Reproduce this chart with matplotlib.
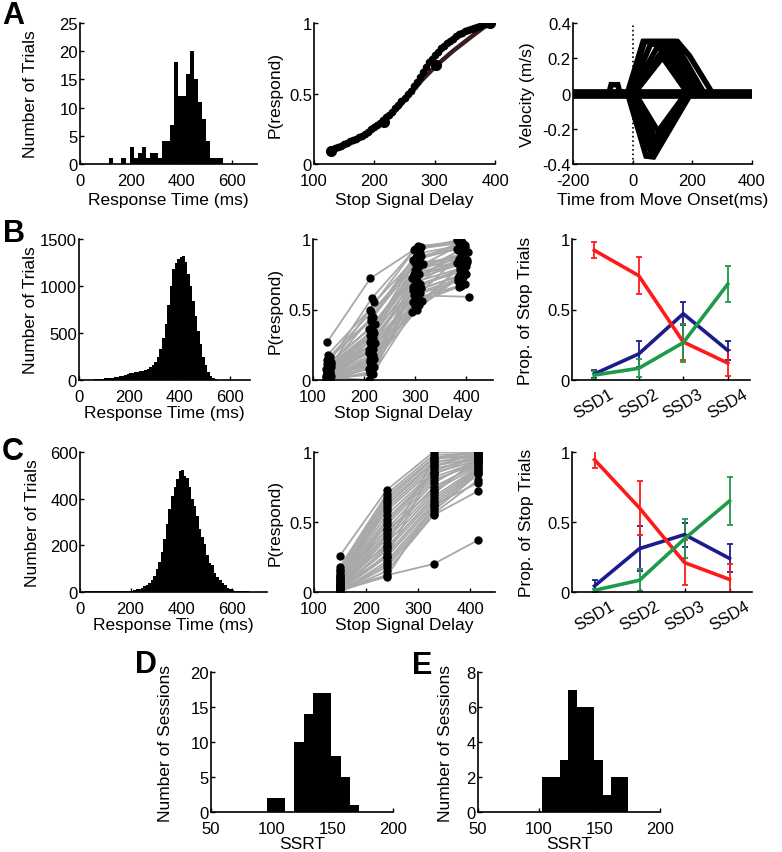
import numpy as np
import matplotlib.pyplot as plt

plt.rcParams['font.family'] = ['Liberation Sans', 'DejaVu Sans']
plt.rcParams['font.size'] = 12
plt.rcParams['axes.linewidth'] = 1.2

W, H = 782, 853

# ---------------- data ----------------
# A: single session
a_rt_left = np.arange(116, 564, 16)
a_rt_counts = [1, 0, 0, 1, 0, 3, 1, 2, 3, 1, 2, 2, 1, 4, 4, 7, 18, 12, 12, 16,
               20, 15, 11, 8, 4, 1, 1, 1]

a_obs_ssd = [128, 216, 303, 391]
a_obs_p = [0.095, 0.30, 0.70, 1.0]
a_fit_ssd = [128, 150, 175, 200, 216, 240, 260, 280, 303, 330, 360, 391]
a_fit_p = [0.10, 0.14, 0.19, 0.25, 0.30, 0.40, 0.50, 0.60, 0.70, 0.80, 0.90, 1.00]
a_dot_ssd = list(range(130, 391, 5))
a_dot_p = [0.10, 0.11, 0.12, 0.13, 0.14, 0.15, 0.16, 0.17, 0.18, 0.19,
           0.20, 0.215, 0.23, 0.245, 0.26, 0.275, 0.29, 0.31, 0.33, 0.35,
           0.37, 0.395, 0.42, 0.445, 0.47, 0.495, 0.52, 0.55, 0.58, 0.615,
           0.65, 0.685, 0.72, 0.745, 0.77, 0.795, 0.82, 0.84, 0.86, 0.875,
           0.89, 0.905, 0.92, 0.93, 0.94, 0.95, 0.96, 0.965, 0.97, 0.98,
           0.99, 0.995, 1.0]

# velocity traces (vertices of time, velocity)
vel_t = [
    [5, 100, 185],
    [0, 95, 110, 195],
    [-5, 80, 120, 205],
    [-10, 60, 130, 220],
    [-15, 40, 140, 240],
    [-18, 35, 150, 190, 268],
    [-80, -72, -50, -42],
    [8, 85, 178],
    [3, 77, 184],
    [-3, 70, 188],
    [-10, 60, 192],
    [-17, 45, 70, 195],
]
vel_v = [
    [0, 0.205, 0],
    [0, 0.23, 0.23, 0],
    [0, 0.255, 0.255, 0],
    [0, 0.28, 0.28, 0],
    [0, 0.295, 0.295, 0],
    [0, 0.295, 0.295, 0.215, 0],
    [0, 0.05, 0.05, 0],
    [0, -0.215, 0],
    [0, -0.26, 0],
    [0, -0.30, 0],
    [0, -0.33, 0],
    [0, -0.355, -0.36, 0],
]
vel_base_t = [-200, 400]
vel_base_v = [0, 0]

# B: monkey 1, all sessions
b_rt_left = np.arange(0, 700, 10)
b_rt_counts = [0, 0, 0, 1, 2, 5, 8, 10, 12, 15, 18, 20, 22, 25, 28,
               35, 40, 45, 55, 62, 70, 75, 80, 85, 92, 100, 108, 120, 135, 160,
               190, 240, 330, 450, 600, 800, 1000, 1180, 1250, 1290,
               1310, 1320, 1260, 1130, 1000, 840, 680, 520, 380, 250,
               160, 90, 45, 20, 10, 5, 3, 2, 1, 1, 1, 0, 0, 0, 0, 0, 0, 0, 0, 0]

b_ssd = [
    (128, 212, 300, 388), (131, 215, 305, 392), (134, 220, 310, 398), (126, 209, 294, 384),
    (130, 214, 302, 406), (129, 211, 298, 386), (133, 218, 312, 395), (127, 213, 296, 382),
    (135, 222, 315, 400), (132, 216, 306, 390), (128, 210, 299, 385), (130, 217, 303, 393),
    (136, 219, 308, 402), (125, 212, 297, 381), (131, 214, 301, 389), (129, 215, 304, 396),
    (134, 211, 309, 387), (127, 216, 295, 391), (133, 213, 311, 399), (130, 218, 300, 385),
    (128, 212, 306, 394), (132, 209, 298, 383), (126, 217, 303, 397), (135, 214, 313, 390),
    (129, 220, 296, 386), (131, 211, 307, 401), (127, 215, 299, 388), (134, 213, 304, 395),
    (130, 219, 310, 392), (128, 210, 302, 384), (133, 216, 297, 398), (126, 212, 305, 389),
    (132, 218, 300, 393), (129, 214, 308, 386), (131, 221, 294, 404), (127, 213, 311, 382),
    (135, 217, 299, 396), (130, 210, 305, 390), (128, 216, 302, 387), (133, 212, 296, 400),
]
b_p = [
    (0.27, 0.72, 0.93, 0.97), (0.12, 0.58, 0.95, 0.98), (0.10, 0.55, 0.90, 0.96), (0.02, 0.00, 0.48, 0.72),
    (0.05, 0.10, 0.60, 0.59), (0.18, 0.50, 0.92, 0.99), (0.16, 0.45, 0.88, 0.95), (0.14, 0.42, 0.85, 0.93),
    (0.13, 0.40, 0.82, 0.90), (0.12, 0.38, 0.80, 0.88), (0.11, 0.36, 0.78, 0.86), (0.10, 0.35, 0.76, 0.85),
    (0.09, 0.33, 0.75, 0.84), (0.08, 0.32, 0.73, 0.83), (0.08, 0.30, 0.72, 0.82), (0.07, 0.28, 0.70, 0.80),
    (0.06, 0.27, 0.68, 0.78), (0.06, 0.25, 0.66, 0.77), (0.05, 0.24, 0.65, 0.75), (0.05, 0.22, 0.63, 0.74),
    (0.04, 0.20, 0.62, 0.73), (0.04, 0.19, 0.60, 0.70), (0.03, 0.18, 0.58, 0.68), (0.03, 0.16, 0.56, 0.67),
    (0.02, 0.15, 0.55, 0.66), (0.02, 0.13, 0.53, 0.85), (0.01, 0.12, 0.52, 0.80), (0.01, 0.10, 0.50, 0.78),
    (0.00, 0.09, 0.62, 0.90), (0.00, 0.08, 0.70, 0.92), (0.00, 0.06, 0.75, 0.94), (0.00, 0.05, 0.80, 0.96),
    (0.01, 0.04, 0.68, 0.88), (0.15, 0.48, 0.86, 0.97), (0.09, 0.26, 0.72, 0.91), (0.07, 0.44, 0.94, 0.99),
    (0.11, 0.30, 0.83, 0.87), (0.06, 0.21, 0.57, 0.72), (0.03, 0.34, 0.87, 0.93), (0.04, 0.14, 0.64, 0.81),
]

ssd_names = ['SSD1', 'SSD2', 'SSD3', 'SSD4']
b_red = [0.92, 0.74, 0.27, 0.12]
b_red_err = [0.057, 0.13, 0.13, 0.09]
b_blue = [0.043, 0.185, 0.47, 0.21]
b_blue_err = [0.03, 0.095, 0.08, 0.07]
b_green = [0.035, 0.083, 0.265, 0.68]
b_green_err = [0.03, 0.065, 0.135, 0.127]

# C: monkey 2, all sessions
c_rt_left = np.arange(0, 740, 10)
c_rt_counts = [2, 2, 3, 3, 3, 3, 4, 4, 4, 4,
               4, 4, 4, 4, 4, 4, 4, 4, 4, 5,
               6, 8, 11, 15, 19, 24, 30, 40, 50, 70,
               97, 130, 170, 226, 290, 355, 410, 450, 483, 519,
               522, 497, 490, 450, 397, 370, 326, 270, 235, 205,
               160, 126, 115, 83, 65, 50, 40, 28, 18, 11,
               8, 6, 5, 5, 4, 3, 3, 2, 2, 2, 2, 1, 1, 1]

c_ssd = [150, 240, 330, 415]
c_p = [
    (0.26, 0.73, 1.00, 1.00), (0.18, 0.70, 0.98, 0.99), (0.16, 0.68, 0.96, 1.00), (0.15, 0.66, 0.95, 0.98),
    (0.13, 0.64, 0.93, 0.97), (0.12, 0.62, 0.92, 0.99), (0.11, 0.60, 0.90, 0.96), (0.10, 0.58, 0.88, 0.95),
    (0.09, 0.55, 0.86, 0.98), (0.08, 0.52, 0.85, 0.94), (0.07, 0.50, 0.84, 0.97), (0.06, 0.48, 0.82, 0.93),
    (0.05, 0.45, 0.80, 0.92), (0.05, 0.42, 0.78, 0.95), (0.04, 0.40, 0.75, 0.91), (0.03, 0.38, 0.72, 0.90),
    (0.03, 0.35, 0.70, 0.96), (0.02, 0.32, 0.68, 0.89), (0.02, 0.30, 0.66, 0.88), (0.01, 0.27, 0.64, 0.87),
    (0.01, 0.25, 0.62, 0.86), (0.00, 0.22, 0.60, 0.85), (0.00, 0.20, 0.58, 0.84), (0.00, 0.18, 0.56, 0.80),
    (0.00, 0.15, 0.55, 0.72), (0.02, 0.12, 0.20, 0.37), (0.01, 0.11, 0.62, 0.78), (0.04, 0.25, 0.90, 0.99),
    (0.07, 0.33, 0.95, 1.00), (0.10, 0.44, 0.73, 0.93),
]

c_red = [0.945, 0.60, 0.21, 0.09]
c_red_err = [0.06, 0.19, 0.16, 0.11]
c_blue = [0.043, 0.31, 0.41, 0.24]
c_blue_err = [0.045, 0.16, 0.085, 0.10]
c_green = [0.012, 0.084, 0.38, 0.65]
c_green_err = [0.01, 0.08, 0.14, 0.17]

# D, E: SSRT distributions
d_left = 96 + 7.6 * np.arange(10)
d_counts = [2, 2, 0, 10, 14, 17, 17, 8, 5, 1]
e_left = 103 + 7.1 * np.arange(10)
e_counts = [2, 2, 3, 7, 6, 6, 3, 1, 2, 2]

RED = '#ff1a1a'
BLUE = '#1c1c8c'
GREEN = '#1e9a4a'
GRAY = '#a8a8a8'

# ---------------- figure ----------------
fig = plt.figure(figsize=(W / 100, H / 100), dpi=100)


def panel(x0, x1, y0, y1):
    ax = fig.add_axes([x0 / W, 1 - y1 / H, (x1 - x0) / W, (y1 - y0) / H])
    ax.spines[['top', 'right']].set_visible(False)
    ax.tick_params(direction='in', length=3, width=1, labelsize=12)
    ax.tick_params(axis='x', pad=6.5)
    ax.tick_params(axis='y', pad=1.5)
    ax.px = (x0, x1, y0, y1)
    return ax


def labels(ax, xlabel, ylabel, xtop, yright):
    x0, x1, y0, y1 = ax.px
    if xlabel:
        ax.set_xlabel(xlabel, fontsize=12.5)
        ax.xaxis.set_label_coords(0.5, (y1 - xtop) / (y1 - y0))
    ax.set_ylabel(ylabel, fontsize=12.5)
    ax.yaxis.set_label_coords((yright - x0) / (x1 - x0), 0.5)


def hist(ax, left, counts, width):
    ax.bar(left, counts, width=width, align='edge', color='k', linewidth=0)


def curves(ax, ssd, p):
    for xs, ys in zip(ssd, p):
        ax.plot(xs, ys, color=GRAY, lw=1.3, zorder=1)
    for xs, ys in zip(ssd, p):
        ax.plot(xs, ys, 'o', color='k', ms=5, zorder=2, linestyle='none')
    ax.set_xlim(100, 452)
    ax.set_ylim(0, 1)
    ax.set_xticks([100, 200, 300, 400])
    ax.set_yticks([0, 0.5, 1])
    ax.set_yticklabels(['0', '0.5', '1'])


def props(ax, red, red_e, blue, blue_e, green, green_e):
    x = [1, 2, 3, 4]
    for y, e, c in [(blue, blue_e, BLUE), (red, red_e, RED), (green, green_e, GREEN)]:
        ax.errorbar(x, y, yerr=e, color=c, lw=2.6, elinewidth=1.3, capsize=2, capthick=1.3)
    ax.set_xlim(0.5, 4.5)
    ax.set_ylim(0, 1)
    ax.set_xticks(x)
    ax.set_xticklabels(ssd_names, rotation=30, ha='center')
    ax.tick_params(axis='x', pad=4)
    ax.set_yticks([0, 0.5, 1])
    ax.set_yticklabels(['0', '0.5', '1'])


# Row A
ax = panel(80, 257, 24, 165)
hist(ax, a_rt_left, a_rt_counts, 16)
ax.set_xlim(0, 700)
ax.set_ylim(0, 25)
ax.set_xticks([0, 200, 400, 600])
ax.set_yticks([0, 5, 10, 15, 20, 25])
labels(ax, 'Response Time (ms)', 'Number of Trials', 193, 38)

ax = panel(314, 495, 24, 165)
ax.plot(a_fit_ssd, a_fit_p, color='#3a1c1c', lw=3.2, zorder=1)
ax.plot(a_dot_ssd, a_dot_p, 'o', color='k', ms=4.5, zorder=2)
ax.plot(a_obs_ssd, a_obs_p, 'o', color='k', ms=7, zorder=3)
ax.set_xlim(100, 400)
ax.set_ylim(0, 1)
ax.set_xticks([100, 200, 300, 400])
ax.set_yticks([0, 0.5, 1])
ax.set_yticklabels(['0', '0.5', '1'])
labels(ax, 'Stop Signal Delay', 'P(respond)', 193, 283)

ax = panel(573, 752, 24, 165)
ax.plot(vel_base_t, vel_base_v, color='k', lw=7, solid_capstyle='butt')
for t, v in zip(vel_t, vel_v):
    ax.plot(t, v, color='k', lw=4, solid_joinstyle='miter')
ax.plot([0, 0], [-0.4, 0.4], 'k:', lw=1.2)
ax.set_xlim(-200, 400)
ax.set_ylim(-0.4, 0.4)
ax.set_xticks([-200, 0, 200, 400])
ax.set_yticks([-0.4, -0.2, 0, 0.2, 0.4])
ax.set_yticklabels(['-0.4', '-0.2', '0', '0.2', '0.4'])
ax.set_xticklabels(['-200', '0', '200', '400'])
labels(ax, 'Time from Move Onset(ms)', 'Velocity (m/s)', 193, 535)

# Row B
ax = panel(79, 250, 240, 381)
hist(ax, b_rt_left, b_rt_counts, 10)
ax.set_xlim(0, 680)
ax.set_ylim(0, 1500)
ax.set_xticks([0, 200, 400, 600])
ax.set_yticks([0, 500, 1000, 1500])
labels(ax, 'Response Time (ms)', 'Number of Trials', 406, 38)

ax = panel(313, 493, 240, 381)
curves(ax, b_ssd, b_p)
labels(ax, 'Stop Signal Delay', 'P(respond)', 406, 283)

ax = panel(572, 750, 240, 381)
props(ax, b_red, b_red_err, b_blue, b_blue_err, b_green, b_green_err)
labels(ax, None, 'Prop. of Stop Trials', None, 533)

# Row C
ax = panel(80, 267, 453, 593)
hist(ax, c_rt_left, c_rt_counts, 10)
ax.set_xlim(0, 740)
ax.set_ylim(0, 600)
ax.set_xticks([0, 200, 400, 600])
ax.set_yticks([0, 200, 400, 600])
labels(ax, 'Response Time (ms)', 'Number of Trials', 618, 40)

ax = panel(314, 495, 453, 593)
curves(ax, [c_ssd] * len(c_p), c_p)
ax.set_xlim(100, 448)
labels(ax, 'Stop Signal Delay', 'P(respond)', 618, 283)

ax = panel(572, 752, 453, 593)
props(ax, c_red, c_red_err, c_blue, c_blue_err, c_green, c_green_err)
labels(ax, None, 'Prop. of Stop Trials', None, 534)

# Row D/E
ax = panel(211, 393, 673, 813)
hist(ax, d_left, d_counts, 7.6)
ax.set_xlim(50, 200)
ax.set_ylim(0, 20)
ax.set_xticks([50, 100, 150, 200])
ax.set_yticks([0, 5, 10, 15, 20])
labels(ax, 'SSRT', 'Number of Sessions', 837, 173)

ax = panel(478, 660, 673, 813)
hist(ax, e_left, e_counts, 7.1)
ax.set_xlim(50, 200)
ax.set_ylim(0, 8)
ax.set_xticks([50, 100, 150, 200])
ax.set_yticks([0, 2, 4, 6, 8])
labels(ax, 'SSRT', 'Number of Sessions', 837, 453)

# panel letters
for letter, x, y in [('A', 2, 24), ('B', 3, 242), ('C', 2, 460), ('D', 135, 673), ('E', 412, 674)]:
    fig.text(x / W, 1 - y / H, letter, fontsize=22, fontweight='bold', va='baseline', ha='left')

fig.savefig('out.png', dpi=100)
